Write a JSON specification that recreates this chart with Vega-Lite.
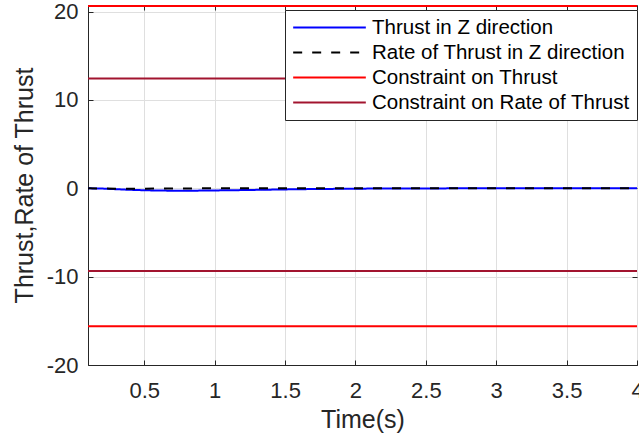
{
  "$schema": "https://vega.github.io/schema/vega-lite/v6.json",
  "width": 549,
  "height": 360,
  "autosize": {"type": "none"},
  "padding": {"left": 88, "top": 5, "right": 2, "bottom": 75},
  "background": "white",
  "config": {
    "font": "Liberation Sans",
    "view": {"stroke": "#262626", "strokeWidth": 1},
    "axis": {
      "labelFont": "Liberation Sans",
      "titleFont": "Liberation Sans",
      "labelColor": "#262626",
      "titleColor": "#262626",
      "domainColor": "#262626",
      "tickColor": "#262626",
      "gridColor": "#dfdfdf",
      "labelFontSize": 22,
      "titleFontSize": 25,
      "titleFontWeight": "normal",
      "tickSize": -5
    }
  },
  "data": {
    "values": [
      {"series": "Constraint on Thrust", "part": "upper", "t": 0.1, "v": 20.65},
      {"series": "Constraint on Thrust", "part": "upper", "t": 4, "v": 20.65},
      {"series": "Constraint on Thrust", "part": "lower", "t": 0.1, "v": -15.6},
      {"series": "Constraint on Thrust", "part": "lower", "t": 4, "v": -15.6},
      {"series": "Constraint on Rate of Thrust", "part": "upper", "t": 0.1, "v": 12.42},
      {"series": "Constraint on Rate of Thrust", "part": "upper", "t": 4, "v": 12.42},
      {"series": "Constraint on Rate of Thrust", "part": "lower", "t": 0.1, "v": -9.37},
      {"series": "Constraint on Rate of Thrust", "part": "lower", "t": 4, "v": -9.37},
      {"series": "Thrust in Z direction", "part": "a", "t": 0.1, "v": 0},
      {"series": "Thrust in Z direction", "part": "a", "t": 0.2, "v": -0.03},
      {"series": "Thrust in Z direction", "part": "a", "t": 0.3, "v": -0.1},
      {"series": "Thrust in Z direction", "part": "a", "t": 0.4, "v": -0.17},
      {"series": "Thrust in Z direction", "part": "a", "t": 0.5, "v": -0.22},
      {"series": "Thrust in Z direction", "part": "a", "t": 0.6, "v": -0.25},
      {"series": "Thrust in Z direction", "part": "a", "t": 0.7, "v": -0.27},
      {"series": "Thrust in Z direction", "part": "a", "t": 0.8, "v": -0.27},
      {"series": "Thrust in Z direction", "part": "a", "t": 0.9, "v": -0.26},
      {"series": "Thrust in Z direction", "part": "a", "t": 1.0, "v": -0.24},
      {"series": "Thrust in Z direction", "part": "a", "t": 1.2, "v": -0.2},
      {"series": "Thrust in Z direction", "part": "a", "t": 1.4, "v": -0.15},
      {"series": "Thrust in Z direction", "part": "a", "t": 1.6, "v": -0.1},
      {"series": "Thrust in Z direction", "part": "a", "t": 1.8, "v": -0.07},
      {"series": "Thrust in Z direction", "part": "a", "t": 2.0, "v": -0.04},
      {"series": "Thrust in Z direction", "part": "a", "t": 2.5, "v": -0.01},
      {"series": "Thrust in Z direction", "part": "a", "t": 3.0, "v": 0},
      {"series": "Thrust in Z direction", "part": "a", "t": 4.0, "v": 0},
      {"series": "Rate of Thrust in Z direction", "part": "a", "t": 0.1, "v": 0},
      {"series": "Rate of Thrust in Z direction", "part": "a", "t": 0.3, "v": -0.05},
      {"series": "Rate of Thrust in Z direction", "part": "a", "t": 0.6, "v": -0.03},
      {"series": "Rate of Thrust in Z direction", "part": "a", "t": 1.0, "v": 0},
      {"series": "Rate of Thrust in Z direction", "part": "a", "t": 2.0, "v": 0.01},
      {"series": "Rate of Thrust in Z direction", "part": "a", "t": 4.0, "v": 0}
    ]
  },
  "encoding": {
    "color": {
      "field": "series", "type": "nominal",
      "scale": {
        "domain": ["Thrust in Z direction", "Rate of Thrust in Z direction", "Constraint on Thrust", "Constraint on Rate of Thrust"],
        "range": ["#0000ff", "#000000", "#ff0000", "#a2142f"]
      },
      "legend": {
        "title": null,
        "orient": "none",
        "legendX": 197,
        "legendY": 5,
        "padding": 7,
        "strokeColor": "#262626",
        "fillColor": "white",
        "labelFont": "Liberation Sans",
        "labelFontSize": 20.5,
        "labelColor": "#000000",
        "labelLimit": 400,
        "rowPadding": 4,
        "symbolType": "M-4,0H4",
        "symbolSize": 330,
        "symbolStrokeWidth": 2,
        "symbolOffset": 27,
        "labelOffset": 32
      }
    },
    "strokeDash": {
      "field": "series", "type": "nominal",
      "scale": {
        "domain": ["Thrust in Z direction", "Rate of Thrust in Z direction", "Constraint on Thrust", "Constraint on Rate of Thrust"],
        "range": [[1, 0], [9, 10], [1, 0], [1, 0]]
      },
      "legend": null
    },
    "detail": {"field": "part", "type": "nominal"}
  },
  "resolve": {"axis": {"x": "independent", "y": "independent"}},
  "layer": [
    {
      "transform": [{"filter": "indexof(datum.series, 'Constraint') === 0"}],
      "mark": {"type": "line", "strokeWidth": 2, "clip": true},
      "encoding": {
        "x": {
          "field": "t", "type": "quantitative",
          "scale": {"domain": [0.1, 4], "nice": false, "zero": false},
          "axis": {"title": "Time(s)", "values": [0.5, 1, 1.5, 2, 2.5, 3, 3.5, 4], "labelExpr": "toString(datum.value)", "labelPadding": 20, "titlePadding": 6, "labelFlush": false, "labelOverlap": false}
        },
        "y": {
          "field": "v", "type": "quantitative",
          "scale": {"domain": [-20, 20.75], "nice": false, "zero": false},
          "axis": {"title": "Thrust,Rate of Thrust", "values": [-20, -10, 0, 10, 20], "labelExpr": "toString(datum.value)", "labelPadding": 15, "titlePadding": 9}
        }
      }
    },
    {
      "transform": [{"filter": "datum.series === 'Thrust in Z direction'"}],
      "mark": {"type": "line", "strokeWidth": 2, "clip": true},
      "encoding": {
        "x": {"field": "t", "type": "quantitative", "axis": {"orient": "top", "values": [0.5, 1, 1.5, 2, 2.5, 3, 3.5, 4], "labels": false, "grid": false, "title": null, "domain": false}},
        "y": {"field": "v", "type": "quantitative", "axis": {"orient": "right", "values": [-20, -10, 0, 10, 20], "labels": false, "grid": false, "title": null, "domain": false}}
      }
    },
    {
      "transform": [{"filter": "datum.series === 'Rate of Thrust in Z direction'"}],
      "mark": {"type": "line", "strokeWidth": 2, "clip": true},
      "encoding": {
        "x": {"field": "t", "type": "quantitative", "axis": null},
        "y": {"field": "v", "type": "quantitative", "axis": null}
      }
    }
  ]
}
